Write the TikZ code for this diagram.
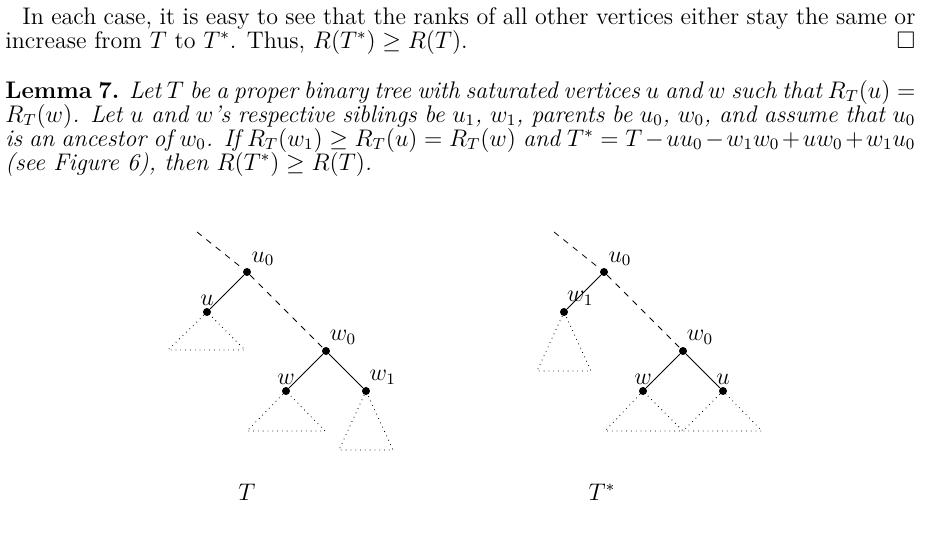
\documentclass[tikz,border=0pt]{standalone}
\usepackage{amsmath,amssymb}
\usetikzlibrary{calc}
\tikzset{%
  vertex/.style={circle,fill,inner sep=0pt,minimum size=4pt},
  sub/.style={dotted,thin},
  up/.style={dashed,thin},
  para/.style={anchor=north west,inner sep=0pt,text width=455pt,align=justify}
}
\begin{document}
\begin{tikzpicture}[x=0.5pt,y=-0.5pt,font=\fontsize{12}{12}\selectfont]
  \useasboundingbox (0,0) rectangle (929,533);
  % text above the figure
  \node [para] (txt) at (5,7) {\hspace*{8.5pt}In each case, it is easy to see that the ranks of all other vertices either stay the same or increase from $T$ to $T^*$. Thus, $R(T^*)\geq R(T)$.\hfill$\square$};
  \node [para] (lem) at (5,80) {\textbf{Lemma 7.} \textit{Let $T$ be a proper binary tree with saturated vertices $u$ and $w$ such that $R_T(u)=R_T(w)$. Let $u$ and $w$'s respective siblings be $u_1$, $w_1$, parents be $u_0$, $w_0$, and assume that $u_0$ is an ancestor of $w_0$. If $R_T(w_1)\geq R_T(u)=R_T(w)$ and $T^*=T-uu_0-w_1w_0+uw_0+w_1u_0$ (see Figure 6), then $R(T^*)\geq R(T)$.}};

  % tree T
  \coordinate (ta) at (197,232);
  \node [vertex,label={[inner sep=1pt]60:$u_0$}] (u0) at (247,272) {};
  \node [vertex,label={[inner sep=1pt]90:$u$}] (u) at (207,312) {};
  \node [vertex,label={[inner sep=1pt]70:$w_0$}] (w0) at (326,351) {};
  \node [vertex,label={[inner sep=1pt]90:$w$}] (w) at (286,391) {};
  \node [vertex,label={[inner sep=1pt]75:$w_1$}] (w1) at (366,391) {};
  \draw [up] (ta) -- (u0) -- (w0);
  \draw (u0) -- (u) (w0) -- (w) (w0) -- (w1);
  \draw [sub] (u) -- (168,350) -- (245,350) -- (u);
  \draw [sub] (w) -- (247,431) -- (325,431) -- (w);
  \draw [sub] (w1) -- (339,450) -- (393,450) -- (w1);
  \node (t) at (247,492) {$T$};

  % tree T*
  \coordinate (sa) at (554,232);
  \node [vertex,label={[inner sep=1pt]60:$u_0$}] (s0) at (604,272) {};
  \node [vertex,label={[inner sep=1pt]80:$w_1$}] (sw1) at (564,312) {};
  \node [vertex,label={[inner sep=1pt]70:$w_0$}] (sw0) at (683,351) {};
  \node [vertex,label={[inner sep=1pt]90:$w$}] (sw) at (643,391) {};
  \node [vertex,label={[inner sep=1pt]90:$u$}] (su) at (723,391) {};
  \draw [up] (sa) -- (s0) -- (sw0);
  \draw (s0) -- (sw1) (sw0) -- (sw) (sw0) -- (su);
  \draw [sub] (sw1) -- (537,371) -- (591,371) -- (sw1);
  \draw [sub] (sw) -- (605,431) -- (683,431) -- (sw);
  \draw [sub] (su) -- (683,431) -- (762,431) -- (su);
  \node (ts) at (602,492) {$T^*$};
\end{tikzpicture}
\end{document}
